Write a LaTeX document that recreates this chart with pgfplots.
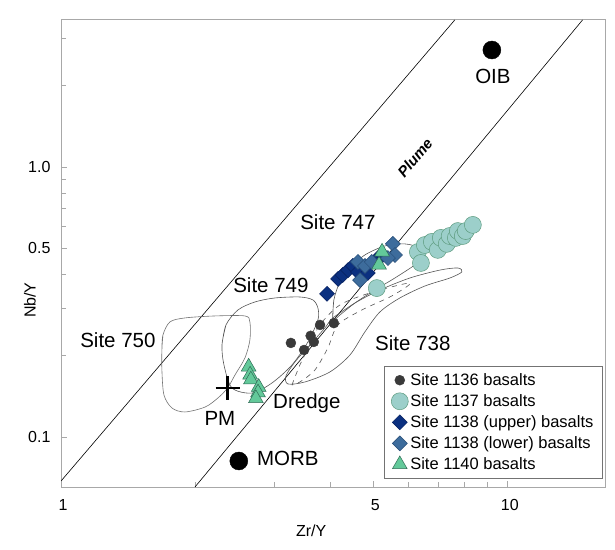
\documentclass[border=0pt]{standalone}
\usepackage{fontspec}
\setmainfont{Liberation Sans}
\usepackage{pgfplots}
\pgfplotsset{compat=1.18}
\usetikzlibrary{calc}

\definecolor{dk1136}{HTML}{3A3A3A}
\definecolor{fill1137}{HTML}{9CCFCA}
\definecolor{edge1137}{HTML}{5E9C80}
\definecolor{up1138}{HTML}{0B3080}
\definecolor{upedge}{HTML}{06205E}
\definecolor{lo1138}{HTML}{3D6C9C}
\definecolor{loedge}{HTML}{264C76}
\definecolor{tri1140}{HTML}{63C99A}
\definecolor{triedge}{HTML}{2F6B55}
\definecolor{frame}{HTML}{A8A8A8}
\definecolor{field}{HTML}{555555}

\begin{document}
\begin{tikzpicture}
\begin{loglogaxis}[name=ax,
  scale only axis, width=544pt, height=467pt,
  xmin=1, xmax=16.5, ymin=0.0653, ymax=3.5,
  axis line style={draw=frame, line width=1pt},
  xtick={1,5,10}, xticklabels={1,5,10},
  minor xtick={2,3,4,6,7,8,9},
  ytick={0.1,0.5,1}, yticklabels={0.1,0.5,1.0},
  minor ytick={0.2,0.3,0.4,0.6,0.7,0.8,0.9,2,3},
  tick align=inside, xtick pos=left, ytick pos=left,
  major tick length=6pt, minor tick length=5pt,
  tick style={draw=frame, line width=0.8pt},
  ticklabel style={font=\fontsize{16}{19}\selectfont},
  xticklabel style={yshift=-9pt, xshift=2pt},
  yticklabel style={xshift=-7pt},
  xlabel={Zr/Y}, ylabel={Nb/Y},
  label style={font=\fontsize{16}{19}\selectfont},
  xlabel style={at={(axis description cs:0.46,-0.094)}, anchor=center},
  ylabel style={at={(axis description cs:-0.057,0.40)}, anchor=center},
  legend style={at={(0.996,0.017)}, anchor=south east, draw=black!55, line width=0.8pt,
    fill=white, font=\fontsize{16.5}{19}\selectfont, row sep=3.6pt,
    inner xsep=7pt, inner ysep=5.5pt},
  legend cell align=left,
]

% reference lines
\addplot[forget plot, black, line width=0.6pt] coordinates {(1,0.0687) (7.61,3.503)};
\addplot[forget plot, black, line width=0.6pt] coordinates {(1.995,0.0653) (14.7,3.503)};

% Site 750 field
\addplot[forget plot, smooth, draw=black!55, line width=0.6pt] coordinates {
  (1.682,0.2100) (1.691,0.2385) (1.753,0.2667) (1.894,0.2760) (2.211,0.2807)
  (2.580,0.2807) (2.647,0.2667) (2.647,0.2287) (2.580,0.1962) (2.451,0.1697)
  (2.36,0.152) (2.245,0.1395) (2.101,0.1291) (1.894,0.1238) (1.771,0.1281)
  (1.700,0.1431) (1.682,0.1771) (1.682,0.2100) (1.691,0.2385)};

% Site 749 field
\addplot[forget plot, smooth, draw=field, line width=0.6pt] coordinates {
  (2.292,0.2192) (2.340,0.260) (2.489,0.2954) (2.716,0.3162) (3.011,0.3272)
  (3.425,0.330) (3.663,0.3217) (3.758,0.3004) (3.758,0.2713) (3.569,0.2248)
  (3.287,0.1848) (2.965,0.1585) (2.676,0.1455) (2.413,0.152) (2.316,0.1848)
  (2.292,0.2192) (2.340,0.260)};

% Site 747 field
\addplot[forget plot, smooth, draw=field, line width=0.6pt] coordinates {
  (4.059,0.2713) (4.080,0.3217) (4.209,0.3751) (4.432,0.4225) (4.786,0.4721)
  (5.308,0.5098) (5.884,0.5187) (6.357,0.5012) (6.523,0.4680) (6.194,0.4336)
  (5.587,0.3880) (5.041,0.3503) (4.549,0.3135) (4.209,0.2830) (4.059,0.2713)
  (4.080,0.3217)};

% Site 738 field
\addplot[forget plot, smooth, draw=field, line width=0.6pt] coordinates {
  (4.059,0.2760) (4.549,0.3135) (5.172,0.3503) (6.036,0.3880) (7.045,0.4150)
  (7.730,0.4225) (7.892,0.4085) (7.418,0.3880) (6.523,0.3624) (5.732,0.3272)
  (5.172,0.2904) (4.786,0.2448) (4.432,0.2012) (3.997,0.1741) (3.515,0.1599)
  (3.220,0.1572) (3.187,0.1682) (3.338,0.1896) (3.606,0.2192) (3.896,0.2533)
  (4.059,0.2760) (4.549,0.3135)};

% Dredge field
\addplot[forget plot, smooth, draw=field, line width=0.6pt, dash pattern=on 5pt off 5pt] coordinates {
  (3.287,0.1558) (3.425,0.1848) (3.606,0.2192) (3.797,0.260) (4.209,0.3083)
  (4.912,0.3415) (6.036,0.3717) (5.502,0.3330) (4.714,0.2954) (4.166,0.260)
  (3.956,0.2136) (3.701,0.1771) (3.425,0.1599) (3.287,0.1558)};

% reference compositions
\addplot[forget plot, only marks, mark=*, mark size=9pt, mark options={fill=black, draw=black}]
  coordinates {(2.50,0.0815) (9.21,2.71)};
\addplot[forget plot, only marks, mark=+, mark size=12pt, mark options={draw=black, line width=2.6pt}]
  coordinates {(2.36,0.152)};

% Site 1136
\addplot[only marks, mark=*, mark size=5pt, mark options={fill=dk1136, draw=dk1136, line width=0.4pt}]
  coordinates {(3.27,0.223) (3.50,0.210) (3.62,0.237) (3.68,0.225) (3.80,0.260) (4.08,0.264)};
\addlegendentry{Site 1136 basalts}

% Site 1137
\addplot[only marks, mark=*, mark size=8.5pt, mark options={fill=fill1137, draw=edge1137, line width=0.5pt}]
  coordinates {(5.09,0.356) (6.29,0.484) (6.39,0.441) (6.52,0.514) (6.76,0.528) (6.97,0.493)
   (7.08,0.546) (7.30,0.519) (7.41,0.555) (7.65,0.546) (7.73,0.579) (7.93,0.555)
   (8.05,0.579) (8.35,0.610)};
\addlegendentry{Site 1137 basalts}

% Site 1138 upper
\addplot[only marks, mark=square*, mark size=5.3pt, mark options={rotate=45, fill=up1138, draw=upedge, line width=0.5pt}]
  coordinates {(3.94,0.339) (4.17,0.385) (4.27,0.398) (4.39,0.415) (4.50,0.430) (4.62,0.408)
   (4.86,0.405) (5.12,0.460) (5.25,0.472)};
\addlegendentry{Site 1138 (upper) basalts}

% Site 1138 lower
\addplot[only marks, mark=square*, mark size=5.3pt, mark options={rotate=45, fill=lo1138, draw=loedge, line width=0.5pt}]
  coordinates {(4.62,0.445) (4.79,0.430) (4.96,0.445) (5.53,0.519) (5.59,0.472) (5.39,0.460) (4.67,0.381)};
\addlegendentry{Site 1138 (lower) basalts}

% Site 1140
\addplot[only marks, mark=triangle*, mark size=8.5pt, mark options={fill=tri1140, draw=triedge, line width=0.5pt}]
  coordinates {(2.63,0.182) (2.65,0.170) (2.66,0.163) (2.77,0.153) (2.76,0.146) (2.73,0.139)
   (5.23,0.485) (5.15,0.434)};
\addlegendentry{Site 1140 basalts}

% field labels
\begin{scope}[every node/.style={font=\fontsize{20.5}{24}\selectfont}]
\node at (axis cs:1.341,0.2287) {Site 750};
\node at (axis cs:2.950,0.3656) {Site 749};
\node at (axis cs:4.166,0.6255) {Site 747};
\node at (axis cs:6.13,0.2229) {Site 738};
\node at (axis cs:3.55,0.1336) {Dredge};
\node at (axis cs:2.268,0.1176) {PM};
\node at (axis cs:3.22,0.0836) {MORB};
\node at (axis cs:9.26,2.154) {OIB};
\end{scope}
\node[rotate=50, font=\bfseries\itshape\fontsize{15}{18}\selectfont] at (axis cs:6.194,1.08) {Plume};
\end{loglogaxis}
\pgfresetboundingbox
\path[use as bounding box] ($(ax.south west)+(-61pt,-62pt)$) rectangle ($(ax.north east)+(10pt,20pt)$);
\end{tikzpicture}
\end{document}
